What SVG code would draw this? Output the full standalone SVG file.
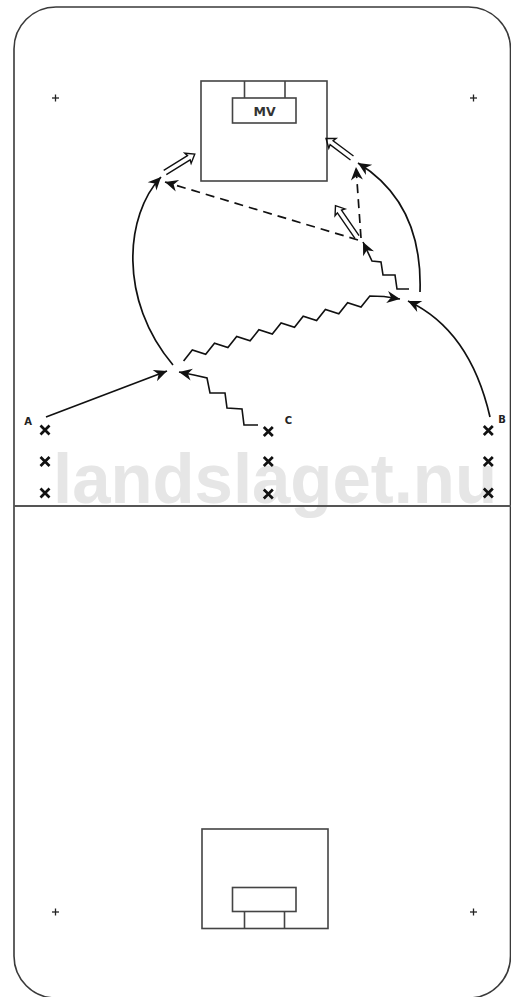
<svg xmlns="http://www.w3.org/2000/svg" width="511" height="997" viewBox="0 0 511 997">
<style>
.court{fill:none;stroke:#3a3a3a;stroke-width:1.6}
.mid{stroke:#555;stroke-width:2.2}
.box{fill:none;stroke:#444;stroke-width:1.6}
.plus{stroke:#222;stroke-width:1.3}
.x{stroke:#111;stroke-width:2.7;stroke-linecap:butt}
.lbl{font-family:"DejaVu Sans",sans-serif;font-weight:bold;font-size:10px;fill:#222}
.mv{font-family:"DejaVu Sans",sans-serif;font-weight:bold;font-size:12.5px;fill:#333}
.wm{font-family:"Liberation Sans",Arial,sans-serif;font-weight:bold;font-size:70px;fill:#e6e6e6}
.run{fill:none;stroke:#111;stroke-width:1.7}
.dash{fill:none;stroke:#111;stroke-width:1.7;stroke-dasharray:9 6}
.zig{fill:none;stroke:#111;stroke-width:1.6;stroke-linejoin:miter}
.shot{fill:none;stroke:#111;stroke-width:1.4;stroke-linejoin:miter}
</style>
<defs>
<marker id="ah" markerUnits="userSpaceOnUse" markerWidth="14" markerHeight="12" refX="13" refY="6" orient="auto" overflow="visible">
<path d="M13,6 L0,0 L4,6 L0,12 Z" fill="#111" stroke="none"/>
</marker>
</defs>

<text class="wm" x="53" y="503" textLength="444" lengthAdjust="spacingAndGlyphs">landslaget.nu</text>

<g id="court">
<rect class="court" x="14" y="7" width="496.5" height="991" rx="42" ry="42"/>
<line class="mid" x1="14" y1="506" x2="511" y2="506"/>
<line class="plus" x1="52" y1="98" x2="59" y2="98"/><line class="plus" x1="55.5" y1="94.5" x2="55.5" y2="101.5"/>
<line class="plus" x1="470" y1="98" x2="477" y2="98"/><line class="plus" x1="473.5" y1="94.5" x2="473.5" y2="101.5"/>
<line class="plus" x1="52" y1="912" x2="59" y2="912"/><line class="plus" x1="55.5" y1="908.5" x2="55.5" y2="915.5"/>
<line class="plus" x1="470" y1="912" x2="477" y2="912"/><line class="plus" x1="473.5" y1="908.5" x2="473.5" y2="915.5"/>
</g>

<g id="goal-top">
<rect class="box" x="201" y="81" width="126" height="100"/>
<rect class="box" x="232.5" y="98" width="63.5" height="25"/>
<line class="box" x1="244.5" y1="81" x2="244.5" y2="98"/>
<line class="box" x1="285" y1="81" x2="285" y2="98"/>
<text class="mv" x="264.5" y="116" text-anchor="middle">MV</text>
</g>

<g id="goal-bottom">
<rect class="box" x="202" y="829" width="126" height="99.5"/>
<rect class="box" x="232.5" y="887.5" width="63.5" height="24"/>
<line class="box" x1="244.5" y1="911.5" x2="244.5" y2="928.5"/>
<line class="box" x1="284.5" y1="911.5" x2="284.5" y2="928.5"/>
</g>

<g id="players-A">
<path class="x" d="M40.5,425.5 l9,9 M49.5,425.5 l-9,9"/>
<path class="x" d="M40.5,457 l9,9 M49.5,457 l-9,9"/>
<path class="x" d="M40.5,488.5 l9,9 M49.5,488.5 l-9,9"/>
<text class="lbl" x="28" y="425" text-anchor="middle">A</text>
</g>
<g id="players-C">
<path class="x" d="M263.8,427 l9,9 M272.8,427 l-9,9"/>
<path class="x" d="M263.8,457 l9,9 M272.8,457 l-9,9"/>
<path class="x" d="M263.8,489.5 l9,9 M272.8,489.5 l-9,9"/>
<text class="lbl" x="288.5" y="424" text-anchor="middle">C</text>
</g>
<g id="players-B">
<path class="x" d="M483.8,426 l9,9 M492.8,426 l-9,9"/>
<path class="x" d="M483.8,457 l9,9 M492.8,457 l-9,9"/>
<path class="x" d="M483.8,488.5 l9,9 M492.8,488.5 l-9,9"/>
<text class="lbl" x="502" y="423" text-anchor="middle">B</text>
</g>

<g id="connectors">
<path class="run" d="M46,417 L167,371" marker-end="url(#ah)"/>
<path class="run" d="M173,365 C118,300 125,215 161,177" marker-end="url(#ah)"/>
<path class="zig" d="M258,425 L244,425 L242,409 L227,408 L225,393 L210,393 L207,378 L194,375 L179,372" marker-end="url(#ah)"/>
<path class="zig" d="M183.6,361 L192.3,350 L205.7,354.3 L214.5,343.3 L227.9,347.5 L236.7,336.5 L250.1,340.8 L258.9,329.8 L272.3,334 L281.1,323 L294.5,327.3 L303.2,316.3 L316.6,320.5 L325.4,309.5 L338.8,313.8 L347.6,302.8 L361,307 L369.8,296 L384,296.5 L400,299" marker-end="url(#ah)"/>
<path class="run" d="M490,417 Q470,330 408,301" marker-end="url(#ah)"/>
<path class="run" d="M420,292 Q423,203 358,163" marker-end="url(#ah)"/>
<path class="zig" d="M409,289 L397,289 L395,275 L383,275 L381,262 L372,261 L363,242" marker-end="url(#ah)"/>
<path class="dash" d="M358,240 L165,182" marker-end="url(#ah)"/>
<path class="dash" d="M361,238 L356,167" marker-end="url(#ah)"/>
<path class="shot" transform="translate(165,172.5) rotate(-31.7)" d="M0,-2.5 H28 L27,-6 L35,0 L27,6 L28,2.5 H0"/>
<path class="shot" transform="translate(352,158) rotate(-143.1)" d="M0,-2.5 H25.5 L24.5,-6 L32.5,0 L24.5,6 L25.5,2.5 H0"/>
<path class="shot" transform="translate(357,237) rotate(-124.5)" d="M0,-2.5 H31 L30,-6 L38,0 L30,6 L31,2.5 H0"/>
</g>
</svg>
